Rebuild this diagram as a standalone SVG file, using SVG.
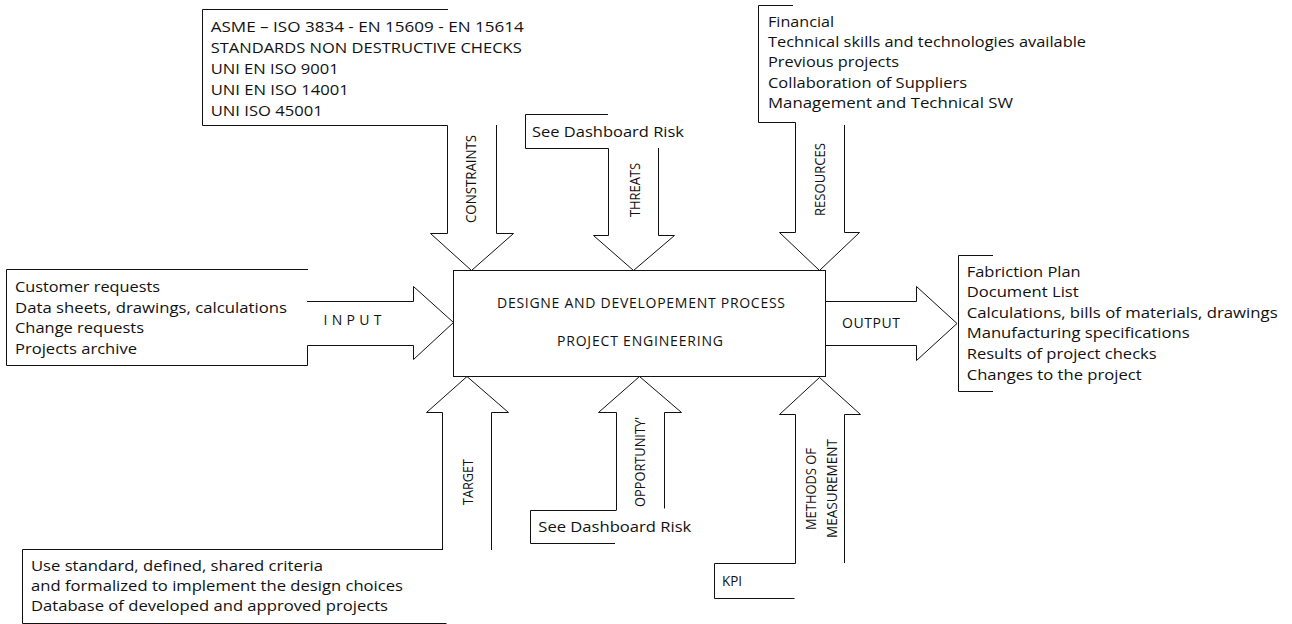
<svg xmlns="http://www.w3.org/2000/svg" width="1292" height="624" viewBox="0 0 1292 624">
  <style>
    .ln { fill: none; stroke: #111; stroke-width: 1; }
    .box { fill: #fff; stroke: #111; stroke-width: 1; }
    text { font-family: "Open Sans", "Noto Sans", "Liberation Sans", sans-serif; font-size: 14px; fill: #111; }
    .lbl { text-anchor: middle; font-size: 14px; }
  </style>
  <rect width="1292" height="624" fill="#fff"/>

  <!-- connectors: block arrows feeding the process box -->
  <g id="connectors">
    <path id="arrow-constraints" class="ln" d="M447.5,125.5 V233.5 H430.5 L471.5,270.5 L513.5,233.5 H496.5 V125"/>
    <path id="arrow-threats" class="ln" d="M608.5,148.5 V235.5 H593.5 L633.5,270.5 L674.5,235.5 H658.5 V148"/>
    <path id="arrow-resources" class="ln" d="M795.5,122.5 V232.5 H779.5 L819.5,270.5 L859.5,232.5 H844.5 V125"/>
    <path id="arrow-input" class="ln" d="M307.5,345.5 H413.5 V359.5 L453.5,322.5 L413.5,286.5 V301.5 H307"/>
    <path id="arrow-output" class="ln" d="M825.5,301.5 H916.5 V286.5 L957,323.5 L916.5,360.5 V345.5 H825.5"/>
    <path id="arrow-target" class="ln" d="M442.5,550 V412.5 H426.5 L467,376.5 L508.5,412.5 H491.5 V550"/>
    <path id="arrow-opportunity" class="ln" d="M616.5,510 V412.5 H598.5 L639.5,376.5 L681.5,412.5 H664.5 V508.5"/>
    <path id="arrow-methods" class="ln" d="M795.5,563.5 V414.5 H779.5 L819.5,377.5 L860.5,414.5 H844.5 V563"/>

    <text class="lbl" transform="translate(476,179) rotate(-90)" textLength="88" lengthAdjust="spacingAndGlyphs">CONSTRAINTS</text>
    <text class="lbl" transform="translate(639.5,190) rotate(-90)" textLength="54" lengthAdjust="spacingAndGlyphs">THREATS</text>
    <text class="lbl" transform="translate(825,179.5) rotate(-90)" textLength="73" lengthAdjust="spacingAndGlyphs">RESOURCES</text>
    <text class="lbl" x="352.5" y="325" textLength="58" lengthAdjust="spacing">INPUT</text>
    <text class="lbl" x="871" y="328" textLength="58" lengthAdjust="spacing">OUTPUT</text>
    <text class="lbl" transform="translate(473,482) rotate(-90)" textLength="46" lengthAdjust="spacingAndGlyphs">TARGET</text>
    <text class="lbl" transform="translate(644.5,462) rotate(-90)" textLength="90" lengthAdjust="spacingAndGlyphs">OPPORTUNITY'</text>
    <text class="lbl" transform="translate(816,489) rotate(-90)" textLength="82" lengthAdjust="spacingAndGlyphs">METHODS OF</text>
    <text class="lbl" transform="translate(836.5,488.5) rotate(-90)" textLength="99" lengthAdjust="spacingAndGlyphs">MEASUREMENT</text>
  </g>

  <!-- central process -->
  <g id="process">
    <rect class="box" x="453.5" y="270.5" width="372" height="106"/>
    <text class="lbl" x="641" y="308" textLength="288" lengthAdjust="spacing">DESIGNE AND DEVELOPEMENT PROCESS</text>
    <text class="lbl" x="640" y="346" textLength="166" lengthAdjust="spacing">PROJECT ENGINEERING</text>
  </g>

  <g id="constraints">
    <path class="ln" d="M448,9.5 H202.5 V125.5 H447.5"/>
    <text x="210.7" y="31.5" textLength="313" lengthAdjust="spacingAndGlyphs">ASME – ISO 3834 - EN 15609 - EN 15614</text>
    <text x="210.7" y="52.5" textLength="311" lengthAdjust="spacingAndGlyphs">STANDARDS NON DESTRUCTIVE CHECKS</text>
    <text x="210.7" y="73.5" textLength="128" lengthAdjust="spacingAndGlyphs">UNI EN ISO 9001</text>
    <text x="210.7" y="95" textLength="138" lengthAdjust="spacingAndGlyphs">UNI EN ISO 14001</text>
    <text x="210.7" y="116" textLength="112" lengthAdjust="spacingAndGlyphs">UNI ISO 45001</text>
  </g>

  <g id="threats">
    <path class="ln" d="M608,114.5 H525.5 V148.5 H608.5"/>
    <text x="532" y="137" textLength="152" lengthAdjust="spacingAndGlyphs">See Dashboard Risk</text>
  </g>

  <g id="resources">
    <path class="ln" d="M793,5.5 H758.5 V122.5 H795.5"/>
    <text x="768" y="26.5" textLength="66" lengthAdjust="spacingAndGlyphs">Financial</text>
    <text x="768" y="46.5" textLength="318" lengthAdjust="spacingAndGlyphs">Technical skills and technologies available</text>
    <text x="768" y="67" textLength="131" lengthAdjust="spacingAndGlyphs">Previous projects</text>
    <text x="768" y="87.5" textLength="199" lengthAdjust="spacingAndGlyphs">Collaboration of Suppliers</text>
    <text x="768" y="107.5" textLength="245" lengthAdjust="spacingAndGlyphs">Management and Technical SW</text>
  </g>

  <g id="input">
    <path class="ln" d="M308,269.5 H6.5 V365.5 H307.5 V345.5"/>
    <text x="15" y="292" textLength="145" lengthAdjust="spacingAndGlyphs">Customer requests</text>
    <text x="15" y="312.5" textLength="272" lengthAdjust="spacingAndGlyphs">Data sheets, drawings, calculations</text>
    <text x="15" y="333" textLength="129" lengthAdjust="spacingAndGlyphs">Change requests</text>
    <text x="15" y="353.5" textLength="122" lengthAdjust="spacingAndGlyphs">Projects archive</text>
  </g>

  <g id="output">
    <path class="ln" d="M993,255.5 H958.5 V391.5 H993"/>
    <text x="966.7" y="276.5" textLength="114" lengthAdjust="spacingAndGlyphs">Fabriction Plan</text>
    <text x="966.7" y="297" textLength="112" lengthAdjust="spacingAndGlyphs">Document List</text>
    <text x="966.7" y="317.5" textLength="311" lengthAdjust="spacingAndGlyphs">Calculations, bills of materials, drawings</text>
    <text x="966.7" y="338" textLength="223" lengthAdjust="spacingAndGlyphs">Manufacturing specifications</text>
    <text x="966.7" y="359" textLength="190" lengthAdjust="spacingAndGlyphs">Results of project checks</text>
    <text x="966.7" y="379.5" textLength="175" lengthAdjust="spacingAndGlyphs">Changes to the project</text>
  </g>

  <g id="target">
    <path class="ln" d="M442.5,549.5 H22.5 V623.5 H446.5"/>
    <text x="31" y="570.5" textLength="292" lengthAdjust="spacingAndGlyphs">Use standard, defined, shared criteria</text>
    <text x="31" y="590.5" textLength="372" lengthAdjust="spacingAndGlyphs">and formalized to implement the design choices</text>
    <text x="31" y="610.5" textLength="357" lengthAdjust="spacingAndGlyphs">Database of developed and approved projects</text>
  </g>

  <g id="opportunity">
    <path class="ln" d="M616.5,510.5 H530.5 V543.5 H615"/>
    <text x="538.3" y="531.5" textLength="153" lengthAdjust="spacingAndGlyphs">See Dashboard Risk</text>
  </g>

  <g id="kpi">
    <path class="ln" d="M795.5,563.5 H714.5 V598.5 H794.5"/>
    <text x="722" y="586" textLength="20" lengthAdjust="spacingAndGlyphs">KPI</text>
  </g>
</svg>
